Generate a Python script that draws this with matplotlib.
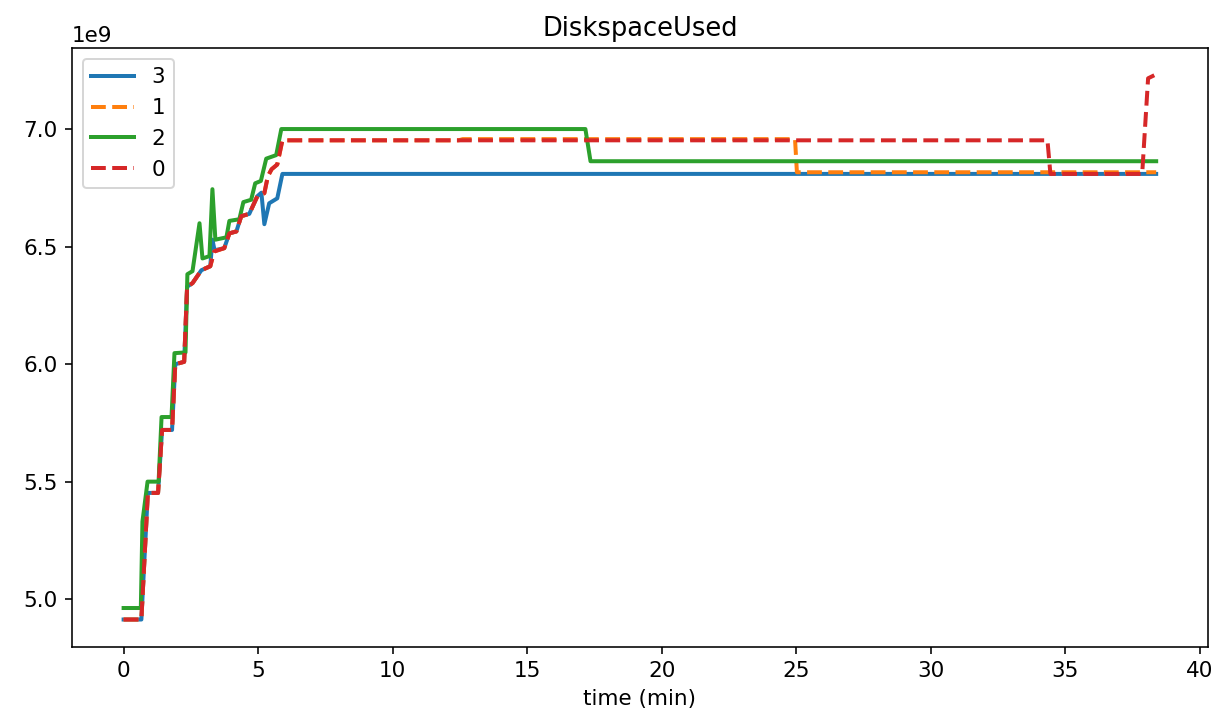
import matplotlib
matplotlib.use("Agg")
import matplotlib.pyplot as plt

# Disk space used per node (bytes)
# vertices of each line: time in minutes, value in 1e9 bytes

t3 = [0, 0.66, 0.90, 1.28, 1.43, 1.80, 1.92, 2.25, 2.36, 2.56, 2.89, 3.22, 3.30,
      3.38, 3.74, 3.93, 4.19, 4.37, 4.67, 4.97, 5.12, 5.23, 5.41, 5.71, 5.90, 38.37]
v3 = [4.913, 4.913, 5.452, 5.452, 5.72, 5.72, 6.0, 6.01, 6.33, 6.345, 6.40, 6.417, 6.53,
      6.485, 6.494, 6.557, 6.565, 6.63, 6.64, 6.715, 6.73, 6.596, 6.685, 6.706, 6.81, 6.81]

t1 = [0, 0.66, 0.90, 1.28, 1.43, 1.80, 1.92, 2.25, 2.36, 2.56, 2.89, 3.22, 3.37,
      3.74, 3.93, 4.19, 4.37, 4.67, 4.97, 5.23, 5.36, 5.50, 5.71, 5.90, 12.45, 12.6,
      24.95, 25.02, 38.37]
v1 = [4.913, 4.913, 5.452, 5.452, 5.72, 5.72, 6.0, 6.01, 6.33, 6.345, 6.40, 6.417, 6.48,
      6.494, 6.557, 6.565, 6.63, 6.64, 6.715, 6.728, 6.80, 6.83, 6.85, 6.953, 6.953, 6.958,
      6.958, 6.817, 6.817]

t2 = [0, 0.64, 0.70, 0.89, 1.30, 1.41, 1.78, 1.89, 2.30, 2.37, 2.56, 2.82, 2.93, 3.19,
      3.30, 3.41, 3.82, 3.93, 4.30, 4.45, 4.74, 4.89, 5.10, 5.30, 5.67, 5.86, 17.16, 17.35,
      38.37]
v2 = [4.962, 4.962, 5.33, 5.50, 5.50, 5.775, 5.775, 6.047, 6.05, 6.383, 6.396, 6.60, 6.45,
      6.46, 6.745, 6.53, 6.54, 6.61, 6.617, 6.69, 6.70, 6.77, 6.78, 6.875, 6.89, 7.001,
      7.001, 6.864, 6.864]

t0 = [0, 0.66, 0.90, 1.28, 1.43, 1.80, 1.92, 2.25, 2.36, 2.56, 2.89, 3.22, 3.37,
      3.74, 3.93, 4.19, 4.37, 4.67, 4.97, 5.23, 5.36, 5.50, 5.71, 5.90, 34.33, 34.44,
      37.85, 38.07, 38.30]
v0 = [4.913, 4.913, 5.452, 5.452, 5.72, 5.72, 6.0, 6.01, 6.33, 6.345, 6.40, 6.417, 6.48,
      6.494, 6.557, 6.565, 6.63, 6.64, 6.715, 6.728, 6.80, 6.83, 6.85, 6.953, 6.953, 6.81,
      6.81, 7.217, 7.23]

plt.rcParams["font.size"] = 10.75

fig = plt.figure(figsize=(1220 / 144, 717 / 144), dpi=144)
ax = fig.add_subplot(111)
fig.subplots_adjust(left=0.059, right=0.990, top=0.933, bottom=0.098)

ax.plot(t3, [v * 1e9 for v in v3], label="3", color="C0", linestyle="-", linewidth=2)
ax.plot(t1, [v * 1e9 for v in v1], label="1", color="C1", linestyle="--", linewidth=2)
ax.plot(t2, [v * 1e9 for v in v2], label="2", color="C2", linestyle="-", linewidth=2)
ax.plot(t0, [v * 1e9 for v in v0], label="0", color="C3", linestyle="--", linewidth=2)

ax.set_title("DiskspaceUsed")
ax.set_xlabel("time (min)")
ax.legend(loc="upper left")

plt.savefig("out.png", dpi=144)
